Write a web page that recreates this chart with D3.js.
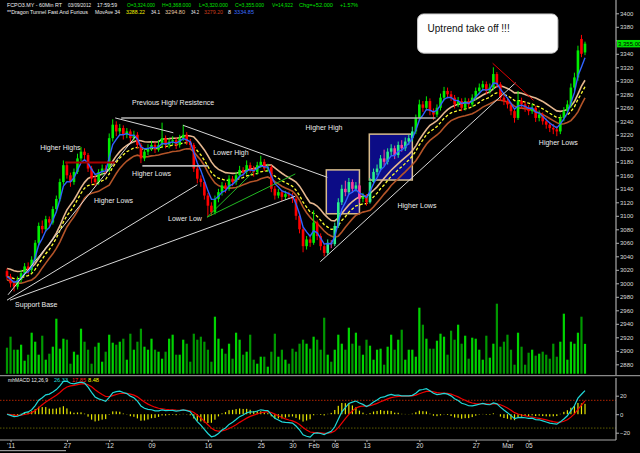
<!DOCTYPE html>
<html>
<head>
<meta charset="utf-8">
<script src="https://cdn.jsdelivr.net/npm/d3@7"></script>
<style>
  body { margin: 0; background: #000; }
  svg { display: block; }
  text { font-family: "Liberation Sans", Arial, sans-serif; }
</style>
</head>
<body>
<div id="chart"></div>
<script>
// hourly candles, thinned to about 2.5 source bars per candle
const opens = [
3018,3010,3000,2995,3005,3015,3025,3020,3035,3060,
3085,3080,3095,3090,3110,3125,3150,3175,3160,3150,
3165,3185,3195,3190,3170,3155,3150,3165,3170,3168,
3215,3235,3225,3230,3220,3225,3215,3220,3205,3185,
3195,3200,3205,3198,3205,3215,3205,3210,3212,3205,
3215,3220,3210,3205,3170,3155,3150,3130,3115,3105,
3125,3135,3145,3140,3155,3150,3160,3168,3165,3175,
3170,3165,3175,3180,3170,3172,3140,3130,3135,3128,
3132,3130,3125,3100,3080,3055,3065,3060,3090,3070,
3055,3045,3060,3058,3085,3120,3140,3135,3150,3140,
3145,3125,3128,3120,3150,3165,3170,3185,3180,3195,
3200,3190,3205,3200,3210,3215,3225,3245,3265,3260,
3270,3255,3250,3260,3275,3285,3280,3275,3265,3270,
3260,3270,3265,3275,3285,3290,3295,3285,3290,3310,
3295,3275,3270,3265,3255,3245,3270,3265,3260,3255,
3260,3245,3250,3240,3235,3230,3228,3225,3245,3255,
3265,3290,3305,3362,3342];
const highs = [
3022,3014,3004,3010,3020,3030,3031,3040,3064,3090,
3093,3100,3099,3114,3130,3155,3182,3180,3164,3170,
3192,3202,3200,3193,3174,3160,3169,3176,3175,3222,
3243,3240,3236,3234,3230,3228,3226,3224,3208,3200,
3206,3211,3209,3212,3238,3219,3215,3218,3216,3220,
3235,3224,3214,3208,3174,3160,3153,3134,3120,3130,
3140,3150,3149,3160,3159,3165,3174,3172,3182,3179,
3174,3180,3189,3184,3177,3175,3144,3140,3138,3137,
3136,3134,3128,3104,3083,3070,3069,3108,3093,3074,
3059,3065,3064,3090,3126,3146,3152,3156,3154,3150,
3148,3134,3132,3156,3170,3176,3190,3198,3200,3206,
3204,3210,3212,3216,3220,3232,3250,3272,3270,3277,
3274,3259,3265,3281,3291,3290,3285,3279,3276,3274,
3275,3274,3280,3290,3296,3300,3299,3296,3320,3313,
3298,3279,3274,3268,3258,3285,3275,3269,3264,3266,
3263,3256,3253,3244,3239,3236,3233,3250,3261,3271,
3296,3312,3352,3368,3358];
const lows = [
3005,2994,2988,2991,3001,3011,3014,3016,3032,3056,
3074,3076,3083,3087,3105,3121,3146,3155,3143,3146,
3162,3181,3184,3165,3148,3144,3146,3160,3162,3165,
3210,3218,3220,3213,3215,3209,3211,3200,3178,3181,
3190,3196,3193,3195,3201,3200,3200,3205,3199,3201,
3211,3205,3199,3165,3148,3143,3124,3098,3100,3102,
3120,3130,3134,3137,3144,3146,3156,3159,3161,3164,
3158,3161,3171,3166,3165,3135,3124,3126,3122,3124,
3125,3119,3094,3074,3046,3050,3054,3057,3064,3049,
3040,3042,3052,3055,3082,3116,3129,3131,3134,3136,
3119,3120,3115,3118,3146,3160,3166,3174,3176,3190,
3184,3186,3195,3196,3205,3210,3221,3241,3254,3256,
3249,3242,3246,3256,3271,3274,3270,3259,3261,3255,
3256,3260,3261,3271,3280,3285,3280,3281,3286,3290,
3270,3264,3259,3249,3238,3242,3259,3254,3249,3251,
3239,3240,3235,3229,3224,3221,3218,3221,3240,3250,
3260,3285,3300,3335,3338];
const closes = [
3010,3000,2995,3005,3015,3025,3020,3035,3060,3085,
3080,3095,3090,3110,3125,3150,3175,3160,3150,3165,
3185,3195,3190,3170,3155,3150,3165,3170,3168,3215,
3235,3225,3230,3220,3225,3215,3220,3205,3185,3195,
3200,3205,3198,3205,3215,3205,3210,3212,3205,3215,
3220,3210,3205,3170,3155,3150,3130,3115,3105,3125,
3135,3145,3140,3155,3150,3160,3168,3165,3175,3170,
3165,3175,3180,3170,3172,3140,3130,3135,3128,3132,
3130,3125,3100,3080,3055,3065,3060,3090,3070,3055,
3045,3060,3058,3085,3120,3140,3135,3150,3140,3145,
3125,3128,3120,3150,3165,3170,3185,3180,3195,3200,
3190,3205,3200,3210,3215,3225,3245,3265,3260,3270,
3255,3250,3260,3275,3285,3280,3275,3265,3270,3260,
3270,3265,3275,3285,3290,3295,3285,3290,3310,3295,
3275,3270,3265,3255,3245,3270,3265,3260,3255,3260,
3245,3250,3240,3235,3230,3228,3225,3245,3255,3265,
3290,3305,3345,3340,3355];
const volumes = [
13000,18500,12000,12000,14500,6500,9500,20500,16000,9500,
19000,7000,10000,13500,27500,12500,17500,17000,5000,11000,
9500,22500,16000,12000,5000,13500,15500,6000,11000,19500,
15500,14500,16000,17500,7000,20000,12000,16000,22500,13500,
12000,17500,12000,11000,7500,11000,17500,19500,9500,9500,
17000,15000,6000,20000,17000,18500,16000,12000,6000,28500,
17500,12500,10000,15000,7500,20500,17000,9500,11000,19500,
7000,5000,8500,8500,3500,11000,20000,8500,12000,7000,
5000,12500,11000,15000,17000,15000,12500,18500,17000,12000,
28000,9500,6000,12000,19500,15000,12000,23000,15000,20500,
14000,9500,17000,14000,7000,12000,12500,4500,13500,19500,
12000,17000,22000,7000,12000,12000,8500,33000,24500,17500,
12500,12500,16500,20000,18500,9500,21500,17000,24500,15000,
19000,7500,18000,17500,12000,7000,19000,8000,15000,35000,
13500,16000,19500,12000,4500,20500,13500,4500,10500,12000,
9000,10000,11000,9500,7500,15000,8500,16000,30000,7000,
16000,15000,20500,28500,14922];

const dateTickIdx = [1, 17, 29, 41, 57, 72, 81, 87, 93, 102, 117, 133, 142, 148];
const dateTickLabels = ["'11", "27", "'12", "09", "16", "25", "30", "Feb", "08", "13", "20", "27", "Mar", "05"];
const priceTicks = [2880,2900,2920,2940,2960,2980,3000,3020,3040,3060,3080,3100,3120,3140,
  3160,3180,3200,3220,3240,3260,3280,3300,3320,3340,3360,3380,3400];
const macdTicks = [20, 0, -20];
const macdLevels = [15, -15];

const headerLine1 = ["FCPO3.MY - 60Min RT", "03/09/2012", "17:59:59", "O=3,324.000", "H=3,368.000",
  "L=3,320.000", "C=3,355.000", "V=14,922", "Chg=+52.000", "+1.57%"];
const headerLine2 = ["**Dragon Tunnel Fast And Furious", "MovAve 34", "3288.22", "34.1", "3294.80",
  "34.2", "3279.20", "8", "3334.85"];
const macdLegend = ["mhMACD 12,26,9", "26.33", "17.85", "8.48"];

// drawn annotations, as [bar, price, bar, price]
const whiteLines = [[30.7,3245,47.2,3223],[50,3234,90.9,3157],[0.3,2983,36.4,3217],
  [0,2975,54,3146],[0.85,2975,81.8,3129],[88.9,3032,144.3,3297]];
const grayLines = [[32.4,3245,121.6,3245],[38.4,3174,57.1,3174]];
const levelLines = [[16.5,3179,30.7,3179]];
const greenLines = [[56.8,3098,69.9,3165],[56.8,3098,81.8,3162]];
const redLines = [[137.8,3326,149.4,3271]];
const boxes = [[90.6,3168,100,3103],[102.8,3221,115,3153]];
const noteText = ["Previous High/ Resistence","Higher Highs","Higher Lows","Higher Lows","Lower Low",
  "Lower High","Higher High","Higher Lows","Higher Lows","Support Base"];
const notePos = [[35.5,3268],[9.4,3201],[35.5,3162],[24.7,3122],[45.7,3096],[58.5,3193],
  [84.7,3231],[110.8,3115],[150.9,3209],[2.3,2969]];
const callout = "Uptrend take off !!!";
const calloutBox = [116.5, 3399, 156.3, 3341];

// indicator periods rescaled for the thinned bars (34/8 and 12,26,9 on the source)
const tunnelN = 14, fastN = 4, macdF = 7, macdS = 15, macdSig = 6;

const W = 640, H = 453, N = closes.length;
const axisX = 616;

function ema(values, n) {
  const k = 2 / (n + 1);
  const out = [];
  values.forEach((v, i) => out.push(i === 0 ? v : v * k + out[i - 1] * (1 - k)));
  return out;
}

const x = d3.scaleLinear().domain([0, N - 1]).range([7, 585]);
const y = d3.scaleLinear().domain([2880, 3400]).range([364.3, 13.3]);
const yV = d3.scaleLinear().domain([0, 40000]).range([373.7, 293.7]);
const yM = d3.scaleLinear().domain([-20, 20]).range([432.7, 395.7]);

const svg = d3.select("#chart").append("svg")
  .attr("width", W).attr("height", H)
  .style("background", "#000");

const defs = svg.append("defs");
defs.append("clipPath").attr("id", "pricePane")
  .append("rect").attr("x", 0).attr("y", 0).attr("width", axisX).attr("height", 375);
defs.append("clipPath").attr("id", "macdPane")
  .append("rect").attr("x", 0).attr("y", 377).attr("width", axisX).attr("height", 63);

const pane = svg.append("g").attr("clip-path", "url(#pricePane)");

// volume
pane.append("g").selectAll("rect").data(volumes).join("rect")
  .attr("x", (d, i) => x(i) - 1.1)
  .attr("width", 2.2)
  .attr("y", d => yV(d))
  .attr("height", d => yV(0) - yV(d))
  .attr("fill", (d, i) => closes[i] >= opens[i] ? "#00d400" : "#009800");

// highlight boxes
pane.append("g").selectAll("rect").data(boxes).join("rect")
  .attr("x", d => x(d[0])).attr("y", d => y(d[1]))
  .attr("width", d => x(d[2]) - x(d[0]))
  .attr("height", d => y(d[3]) - y(d[1]))
  .attr("fill", "#0c0c86")
  .attr("stroke", "#d8bc8c").attr("stroke-width", 1.5);

const line = d3.line().x((d, i) => x(i)).y(d => y(d));

// dragon tunnel
const tunnel = [
  {v: ema(highs, tunnelN), c: "#e6b890", w: 1.6, dash: null},
  {v: ema(closes, tunnelN), c: "#ffff30", w: 1.3, dash: "3,2"},
  {v: ema(lows, tunnelN), c: "#b45428", w: 1.6, dash: null}
];
tunnel.forEach(t => {
  pane.append("path").attr("d", line(t.v))
    .attr("fill", "none").attr("stroke", t.c).attr("stroke-width", t.w)
    .attr("stroke-dasharray", t.dash);
});

// candles
const inBox = i => boxes.some(b => i >= b[0] && i <= b[2]);
const candleColor = i => {
  const up = closes[i] >= opens[i];
  if (inBox(i)) return up ? "#28f08c" : "#ff3c9c";
  return up ? "#00ee00" : "#ff0000";
};
const candles = pane.append("g").selectAll("g").data(closes).join("g");
candles.append("line")
  .attr("x1", (d, i) => x(i)).attr("x2", (d, i) => x(i))
  .attr("y1", (d, i) => y(highs[i])).attr("y2", (d, i) => y(lows[i]))
  .attr("stroke", (d, i) => candleColor(i)).attr("stroke-width", 1);
candles.append("rect")
  .attr("x", (d, i) => x(i) - 1.3).attr("width", 2.6)
  .attr("y", (d, i) => y(Math.max(opens[i], closes[i])))
  .attr("height", (d, i) => Math.max(1, Math.abs(y(opens[i]) - y(closes[i]))))
  .attr("fill", (d, i) => candleColor(i));

// fast average
pane.append("path").attr("d", line(ema(closes, fastN)))
  .attr("fill", "none").attr("stroke", "#2f62ff").attr("stroke-width", 1.4);

// trend lines
const drawSegs = (segs, color, width) => {
  pane.append("g").selectAll("line").data(segs).join("line")
    .attr("x1", d => x(d[0])).attr("y1", d => y(d[1]))
    .attr("x2", d => x(d[2])).attr("y2", d => y(d[3]))
    .attr("stroke", color).attr("stroke-width", width);
};
drawSegs(grayLines, "#b4b4b4", 1.6);
drawSegs(whiteLines, "#d8d8d8", 1);
drawSegs(levelLines, "#a80000", 2.2);
drawSegs(greenLines, "#22b822", 1);
drawSegs(redLines, "#e00000", 1);

// notes
pane.append("g").selectAll("text").data(noteText).join("text")
  .attr("x", (d, i) => x(notePos[i][0]))
  .attr("y", (d, i) => y(notePos[i][1]))
  .attr("dy", "0.35em")
  .attr("fill", "#ececec").attr("font-size", 7)
  .text(d => d);

const cb = svg.append("g");
cb.append("rect")
  .attr("x", x(calloutBox[0])).attr("y", y(calloutBox[1]))
  .attr("width", x(calloutBox[2]) - x(calloutBox[0]))
  .attr("height", y(calloutBox[3]) - y(calloutBox[1]))
  .attr("rx", 6).attr("fill", "#ffffff").attr("stroke", "#c8c8c8");
cb.append("text")
  .attr("x", x(calloutBox[0]) + 10)
  .attr("y", (y(calloutBox[1]) + y(calloutBox[3])) / 2 - 5)
  .attr("dy", "0.35em")
  .attr("font-size", 10).attr("fill", "#111")
  .text(callout);

// price axis
const last = closes[N - 1];
const pAxis = svg.append("g").attr("transform", `translate(${axisX},0)`)
  .call(d3.axisRight(y).tickValues(priceTicks).tickSize(3).tickPadding(1)
    .tickFormat(d => Math.abs(y(d) - y(last)) < 5 ? "" : d3.format("d")(d)));
pAxis.select(".domain").remove();
pAxis.selectAll("line").attr("stroke", "#b0b0b0");
pAxis.selectAll("text").attr("fill", "#dcdcdc").attr("font-size", 6)
  .attr("font-family", "Liberation Sans, Arial, sans-serif");
svg.append("line").attr("x1", axisX).attr("x2", axisX).attr("y1", 0).attr("y2", 375)
  .attr("stroke", "#a8a8a8").attr("stroke-width", 1.2);

// last price tag
svg.append("rect").attr("x", axisX + 1).attr("y", y(last) - 3.7)
  .attr("width", W - axisX - 1).attr("height", 7.4).attr("fill", "#00e000");
svg.append("text").attr("x", axisX + 2).attr("y", y(last)).attr("dy", "0.35em")
  .attr("font-size", 6).attr("fill", "#000")
  .text(d3.format(",.2f")(last));

// separators
svg.append("line").attr("x1", 0).attr("x2", W).attr("y1", 375.6).attr("y2", 375.6)
  .attr("stroke", "#8a8a8a").attr("stroke-width", 1.4);

// header, squeezed to the widths of the small bitmap font
const fitRow = (texts, xs, ws, cs, yPos) => {
  svg.append("g").selectAll("text").data(texts).join("text")
    .attr("x", (d, i) => xs[i]).attr("y", yPos)
    .attr("font-size", 5.5).attr("fill", (d, i) => cs[i])
    .attr("textLength", (d, i) => ws[i]).attr("lengthAdjust", "spacingAndGlyphs")
    .text(d => d);
};
const wht = "#f0f0f0", grn = "#00e000";
fitRow(headerLine1,
  [7, 68, 97, 127, 162, 199, 235, 272, 299, 340],
  [55, 23, 20, 28, 29, 29, 29, 21, 34, 18],
  [wht, wht, wht, grn, grn, grn, grn, grn, grn, grn], 7);
fitRow(headerLine2,
  [7, 95, 126, 151, 165, 191, 204, 228, 234],
  [81, 25, 19, 9, 20, 8, 19, 3, 20],
  [wht, wht, "#f0f000", wht, "#e8c8a0", wht, "#c83c1c", wht, "#3a6cff"], 13.6);

// MACD pane
const emaS = ema(closes, macdS);
const macd = ema(closes, macdF).map((v, i) => v - emaS[i]);
const signal = ema(macd, macdSig);
const hist = macd.map((v, i) => v - signal[i]);
const mp = svg.append("g").attr("clip-path", "url(#macdPane)");

mp.append("g").selectAll("line").data(macdLevels).join("line")
  .attr("x1", 0).attr("x2", axisX)
  .attr("y1", d => yM(d)).attr("y2", d => yM(d))
  .attr("stroke", d => d > 0 ? "#b02400" : "#5c5c00")
  .attr("stroke-width", 1).attr("stroke-dasharray", "1.5,1.5");

mp.append("g").selectAll("rect").data(hist).join("rect")
  .attr("x", (d, i) => x(i) - 0.6).attr("width", 1.2)
  .attr("y", d => Math.min(yM(0), yM(d)))
  .attr("height", d => Math.abs(yM(d) - yM(0)))
  .attr("fill", "#e6e600");

const mline = d3.line().x((d, i) => x(i)).y(d => yM(d));
mp.append("path").attr("d", mline(signal)).attr("fill", "none")
  .attr("stroke", "#ee0000").attr("stroke-width", 1.2);
mp.append("path").attr("d", mline(macd)).attr("fill", "none")
  .attr("stroke", "#20d8d8").attr("stroke-width", 1.2);

fitRow(macdLegend, [8, 54, 72, 88], [40, 14, 14, 11],
  [wht, "#20d8d8", "#ff2020", "#ffff00"], 381.5);

const mAxis = svg.append("g").attr("transform", `translate(${axisX},0)`)
  .call(d3.axisRight(yM).tickValues(macdTicks).tickSize(3).tickPadding(1));
mAxis.select(".domain").remove();
mAxis.selectAll("line").attr("stroke", "#b0b0b0");
mAxis.selectAll("text").attr("fill", "#dcdcdc").attr("font-size", 6)
  .attr("font-family", "Liberation Sans, Arial, sans-serif");
svg.append("line").attr("x1", axisX).attr("x2", axisX).attr("y1", 378).attr("y2", 440)
  .attr("stroke", "#a8a8a8").attr("stroke-width", 1.2);

// date axis
const xAxis = svg.append("g").attr("transform", "translate(0,440)")
  .call(d3.axisBottom(x).tickValues(dateTickIdx).tickSize(2).tickPadding(1)
    .tickFormat((d, i) => dateTickLabels[i]));
xAxis.select(".domain").attr("d", `M0,0H${axisX}`).attr("stroke", "#a8a8a8").attr("stroke-width", 1.2);
xAxis.selectAll("line").attr("stroke", "#b0b0b0");
xAxis.selectAll("text").attr("fill", "#dcdcdc").attr("font-size", 6.5)
  .attr("font-family", "Liberation Sans, Arial, sans-serif");

svg.append("rect").attr("x", 0).attr("y", 450).attr("width", 66).attr("height", 1.2)
  .attr("fill", "#9a9a9a");
</script>
</body>
</html>
